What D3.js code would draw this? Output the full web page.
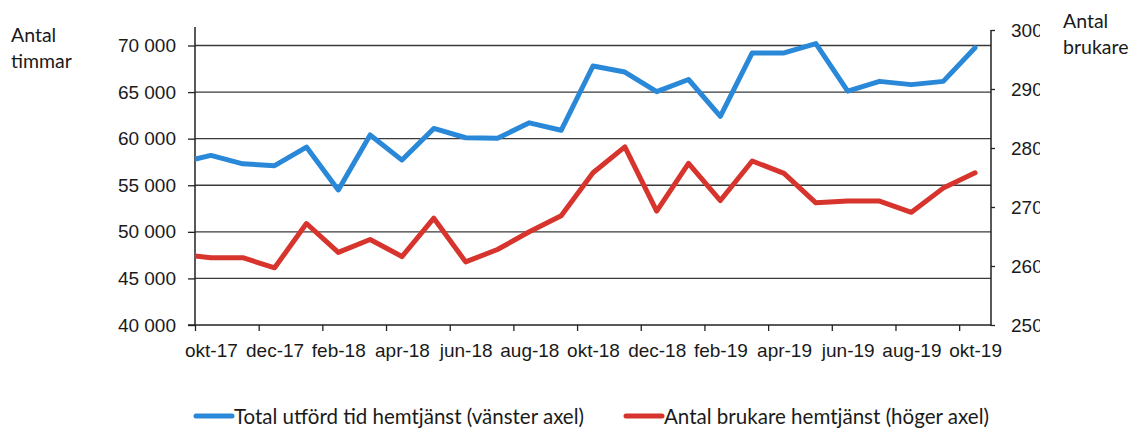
<!DOCTYPE html>
<html>
<head>
<meta charset="utf-8">
<script src="https://cdn.jsdelivr.net/npm/d3@7"></script>
<style>
  body { margin: 0; background: #fff; }
  svg { font-family: Lato, "Open Sans", sans-serif; }
</style>
</head>
<body>
<div id="chart"></div>
<script>
// months shown on the category axis (index 0 = okt-17)
var months = ["okt-17","nov-17","dec-17","jan-18","feb-18","mar-18","apr-18","maj-18","jun-18","jul-18","aug-18","sep-18",
              "okt-18","nov-18","dec-18","jan-19","feb-19","mar-19","apr-19","maj-19","jun-19","jul-19","aug-19","sep-19","okt-19"];

// the lines enter from the left edge, so the month before okt-17 is kept as well
var timmarPrev = 57400;
var brukarePrev = 2620;

// Total utförd tid hemtjänst (vänster axel)
var timmar = [58200, 57300, 57100, 59100, 54500, 60400, 57700, 61100, 60100, 60050, 61700, 60900,
              67800, 67150, 65050, 66350, 62400, 69200, 69200, 70200, 65100, 66150, 65800, 66150, 69750];

// Antal brukare hemtjänst (höger axel)
var brukare = [2614, 2614, 2597, 2672, 2623, 2645, 2616, 2681, 2607, 2628, 2658, 2685,
               2758, 2802, 2693, 2774, 2711, 2778, 2757, 2707, 2710, 2710, 2691, 2732, 2758];

var leftTicks = [40000, 45000, 50000, 55000, 60000, 65000, 70000];
var rightTicks = [2500, 2600, 2700, 2800, 2900, 3000];

var width = 1137, height = 431;
var svg = d3.select("#chart").append("svg").attr("width", width).attr("height", height);

var plotLeft = 195, plotRight = 991, plotTop = 27, plotBottom = 325;

var x = d3.scaleLinear().domain([-0.5, months.length - 0.5]).range([plotLeft, plotRight]);
var yL = d3.scaleLinear().domain([40000, 70000]).range([325, 45.5]);
var yR = d3.scaleLinear().domain([2500, 3000]).range([325, 30]);

var gridColor = "#3a3a3a";
var blue = "#2a88d8";
var red = "#d6342c";

// horizontal grid lines
svg.append("g").selectAll("line")
    .data(leftTicks.slice(1))
    .enter().append("line")
    .attr("x1", plotLeft).attr("x2", plotRight)
    .attr("y1", function (d) { return yL(d); })
    .attr("y2", function (d) { return yL(d); })
    .attr("stroke", gridColor)
    .attr("stroke-width", 1.3);

function styleAxis(g) {
    g.select(".domain").remove();
    g.selectAll(".tick line").attr("stroke", "#222").attr("stroke-width", 1.3);
    g.selectAll(".tick text").attr("fill", "#1a1a1a").style("font-size", "19px");
}

// left axis
var yAxisL = d3.axisLeft(yL).tickValues(leftTicks).tickSize(7).tickPadding(12)
    .tickFormat(function (d) { return d3.format(",")(d).replace(",", " "); });
svg.append("g").attr("transform", "translate(" + plotLeft + ",0)").call(yAxisL).call(styleAxis);

// right axis (labels are cut at the edge as in the source image)
svg.append("clipPath").attr("id", "rclip")
    .append("rect").attr("x", 0).attr("y", 0).attr("width", 49).attr("height", height);
var yAxisR = d3.axisRight(yR).tickValues(rightTicks).tickSize(4).tickPadding(16)
    .tickFormat(d3.format("d"));
svg.append("g").attr("transform", "translate(" + plotRight + ",0)")
    .attr("clip-path", "url(#rclip)")
    .call(yAxisR).call(styleAxis);

// axis lines
svg.append("line").attr("x1", plotLeft).attr("x2", plotLeft).attr("y1", plotTop).attr("y2", plotBottom + 1)
    .attr("stroke", "#222").attr("stroke-width", 1.5);
svg.append("line").attr("x1", plotRight).attr("x2", plotRight).attr("y1", yR(3000)).attr("y2", plotBottom + 1)
    .attr("stroke", "#222").attr("stroke-width", 1.5);
svg.append("line").attr("x1", plotLeft - 7).attr("x2", plotRight).attr("y1", plotBottom).attr("y2", plotBottom)
    .attr("stroke", "#222").attr("stroke-width", 1.5);

// x axis: ticks between every second month, labels under every second month
var boundaries = d3.range(0, months.length, 2).map(function (i) { return i - 0.5; });
svg.append("g").attr("transform", "translate(0," + plotBottom + ")")
    .call(d3.axisBottom(x).tickValues(boundaries).tickSize(6).tickFormat(""))
    .call(styleAxis);
var labelIdx = d3.range(0, months.length, 2);
svg.append("g").attr("transform", "translate(0," + plotBottom + ")")
    .call(d3.axisBottom(x).tickValues(labelIdx).tickSize(0).tickPadding(19)
        .tickFormat(function (i) { return months[i]; }))
    .call(styleAxis);

// lines, clipped to the plot area
svg.append("clipPath").attr("id", "plotclip")
    .append("rect").attr("x", plotLeft).attr("y", 0).attr("width", plotRight - plotLeft).attr("height", height);

var timmarData = [timmarPrev].concat(timmar).map(function (v, i) { return { i: i - 1, v: v }; });
var brukareData = [brukarePrev].concat(brukare).map(function (v, i) { return { i: i - 1, v: v }; });

var lineL = d3.line().x(function (d) { return x(d.i); }).y(function (d) { return yL(d.v); });
var lineR = d3.line().x(function (d) { return x(d.i); }).y(function (d) { return yR(d.v); });

var lines = svg.append("g").attr("clip-path", "url(#plotclip)");
lines.append("path").datum(timmarData)
    .attr("fill", "none").attr("stroke", blue).attr("stroke-width", 5)
    .attr("stroke-linejoin", "round").attr("stroke-linecap", "round")
    .attr("d", lineL);
lines.append("path").datum(brukareData)
    .attr("fill", "none").attr("stroke", red).attr("stroke-width", 5)
    .attr("stroke-linejoin", "round").attr("stroke-linecap", "round")
    .attr("d", lineR);

// axis titles
var titleL = svg.append("text").attr("x", 11).attr("y", 42).attr("fill", "#1a1a1a").style("font-size", "19.5px");
titleL.append("tspan").attr("x", 11).text("Antal");
titleL.append("tspan").attr("x", 11).attr("dy", 26).text("timmar");
var titleR = svg.append("text").attr("x", 1063).attr("y", 28).attr("fill", "#1a1a1a").style("font-size", "19.5px");
titleR.append("tspan").attr("x", 1063).text("Antal");
titleR.append("tspan").attr("x", 1063).attr("dy", 26).text("brukare");

// legend
var legend = [
    { name: "Total utförd tid hemtjänst (vänster axel)", color: blue, x: 196, w: 350 },
    { name: "Antal brukare hemtjänst (höger axel)", color: red, x: 626, w: 325 }
];
var lg = svg.append("g").selectAll("g").data(legend).enter().append("g");
lg.append("line")
    .attr("x1", function (d) { return d.x; }).attr("x2", function (d) { return d.x + 36; })
    .attr("y1", 416).attr("y2", 416)
    .attr("stroke", function (d) { return d.color; }).attr("stroke-width", 5)
    .attr("stroke-linecap", "round");
lg.append("text")
    .attr("x", function (d) { return d.x + 38; }).attr("y", 424)
    .attr("textLength", function (d) { return d.w; })
    .attr("lengthAdjust", "spacingAndGlyphs")
    .attr("fill", "#1a1a1a").style("font-size", "21px")
    .text(function (d) { return d.name; });
</script>
</body>
</html>
